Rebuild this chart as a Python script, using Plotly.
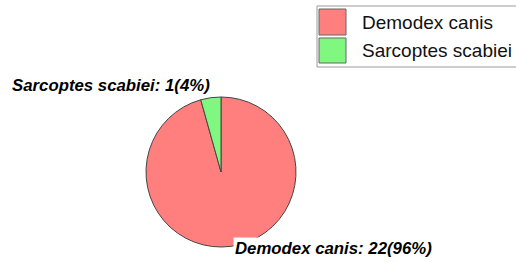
import plotly.graph_objects as go

labels = ["Demodex canis", "Sarcoptes scabiei"]
values = [22, 1]
colors = ["#ff7f7f", "#80f880"]

W, H = 516, 262
total = sum(values)

fig = go.Figure(go.Pie(
    labels=labels, values=values, sort=False, direction="clockwise", rotation=0,
    marker=dict(colors=colors, line=dict(color="#444444", width=1)),
    textinfo="none", hoverinfo="label+value+percent", showlegend=False,
    domain=dict(x=[146 / W, 296 / W], y=[15 / H, 165 / H]),
))

def lab(i):
    return f"<b><i>{labels[i]}: {values[i]}({round(100 * values[i] / total)}%)</i></b>"

annotations = [
    dict(text=lab(1), x=10 / W, y=1 - 85 / H, xref="paper", yref="paper",
         xanchor="left", yanchor="middle", showarrow=False,
         font=dict(family="Liberation Sans, Arial", size=16.8, color="black")),
    dict(text=lab(0), x=233 / W, y=1 - 248 / H, xref="paper", yref="paper",
         xanchor="left", yanchor="middle", showarrow=False, bgcolor="white",
         borderpad=1,
         font=dict(family="Liberation Sans, Arial", size=16.8, color="black")),
]

shapes = [dict(type="rect", xref="paper", yref="paper",
               x0=317 / W, x1=540 / W, y0=1 - 67 / H, y1=1 - 6 / H,
               line=dict(color="#9a9a9a", width=1), fillcolor="white", layer="below")]

rows = [(9, 35), (38, 63)]
for i, (t, b) in enumerate(rows):
    shapes.append(dict(type="rect", xref="paper", yref="paper",
                       x0=319 / W, x1=346 / W, y0=1 - b / H, y1=1 - t / H,
                       line=dict(color="#666666", width=1), fillcolor=colors[i]))
    annotations.append(dict(text=labels[i], x=360 / W, y=1 - (t + b) / 2 / H,
                            xref="paper", yref="paper", xanchor="left", yanchor="middle",
                            showarrow=False,
                            font=dict(family="Liberation Sans, Arial", size=19, color="#111111")))

fig.update_layout(
    width=W, height=H, margin=dict(l=0, r=0, t=0, b=0, autoexpand=False),
    paper_bgcolor="white", plot_bgcolor="white",
    annotations=annotations, shapes=shapes,
)

fig.write_html("out.html", config={"displayModeBar": False},
               post_script="document.body.style.margin='0';document.body.style.overflow='hidden';")
